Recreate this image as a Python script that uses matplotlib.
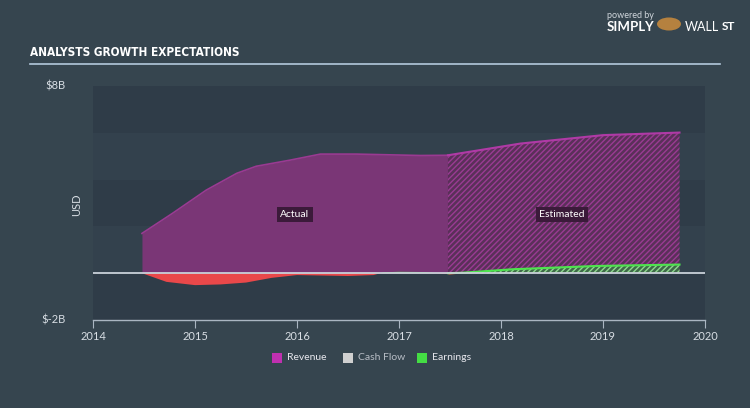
import matplotlib
matplotlib.use("Agg")
import matplotlib.pyplot as plt
import numpy as np

# ---- data (USD billions) ----
rev_act_x = [2014.48, 2014.78, 2015.11, 2015.41, 2015.60, 2015.93, 2016.23, 2016.58, 2017.21, 2017.48]
rev_act_y = [1.70, 2.56, 3.55, 4.27, 4.57, 4.83, 5.09, 5.09, 5.03, 5.04]
rev_est_x = [2017.48, 2018.19, 2019.00, 2019.75]
rev_est_y = [5.04, 5.54, 5.90, 6.01]

earn_act_x = [2014.48, 2014.72, 2015.00, 2015.25, 2015.50, 2015.75, 2016.00, 2016.25, 2016.50, 2016.75, 2016.85, 2017.00, 2017.25, 2017.48]
earn_act_y = [0.00, -0.37, -0.51, -0.48, -0.40, -0.20, -0.08, -0.10, -0.12, -0.08, 0.04, 0.06, 0.05, -0.05]
earn_est_x = [2017.48, 2017.62, 2018.12, 2018.94, 2019.75]
earn_est_y = [-0.05, 0.02, 0.17, 0.31, 0.37]

x_ticks = [2014, 2015, 2016, 2017, 2018, 2019, 2020]
y_tick_labels = {8: "$8B", -2: "$-2B"}

BG = "#36454f"
PLOT = "#33414d"
BAND = "#2f3c48"

fig = plt.figure(figsize=(7.5, 4.08), dpi=100, facecolor=BG)
ax = fig.add_axes([93/750, 1-320/408, (705-93)/750, (320-86)/408])
ax.set_facecolor(PLOT)
ax.set_xlim(2014, 2020)
ax.set_ylim(-2, 8)

# background bands
for lo in [6, 2, -2]:
    ax.axhspan(lo, lo + 2, color=BAND, zorder=0, lw=0)

# revenue actual
ax.fill_between(rev_act_x, 0, rev_act_y, color="#7a3676", lw=0, zorder=2)
ax.plot(rev_act_x, rev_act_y, color="#9a3a92", lw=1.2, zorder=3)
# revenue estimated (hatched)
ax.fill_between(rev_est_x, 0, rev_est_y, facecolor="#5a3059", edgecolor="#9a3b93",
                hatch="//////", lw=0, zorder=2)
ax.plot(rev_est_x, rev_est_y, color="#b03aa6", lw=1.5, zorder=3)

# earnings actual
ea_x = np.array(earn_act_x); ea_y = np.array(earn_act_y)
ax.fill_between(ea_x, 0, ea_y, where=ea_y <= 0, interpolate=True, color="#e9484a", lw=0, zorder=4)
ax.fill_between(ea_x, 0, ea_y, where=ea_y >= 0, interpolate=True, color="#4cd94c", lw=0, zorder=4)
# earnings estimated
ee_x = np.array(earn_est_x); ee_y = np.array(earn_est_y)
ax.fill_between(ee_x, 0, ee_y, where=ee_y <= 0, interpolate=True, color="#c0404a", lw=0, zorder=4)
ax.fill_between(ee_x, 0, ee_y, where=ee_y >= 0, interpolate=True, facecolor="#3e6a48",
                edgecolor="#8fd98f", hatch="//////", lw=0, zorder=4)
ax.plot(ee_x, np.clip(ee_y, 0, None), color="#4ee44e", lw=1.5, zorder=5)

# zero line
ax.axhline(0, color="#c9d1d9", lw=1.3, zorder=6)

# axes styling
for s in ["top", "right", "left"]:
    ax.spines[s].set_visible(False)
ax.spines["bottom"].set_color("#aab6c2")
ax.spines["bottom"].set_linewidth(1)
ax.set_xticks(x_ticks)
ax.set_xticklabels([str(t) for t in x_ticks], fontsize=8, color="#d8dee4", family="Lato")
ax.tick_params(axis="x", length=6, color="#aab6c2", pad=2)
ax.set_yticks([])
for v, lab in y_tick_labels.items():
    ax.text(-0.045, v, lab, transform=ax.get_yaxis_transform(), ha="right", va="center",
            fontsize=8, color="#d8dee4", family="Lato")
fig.text(77/750, 1-205/408, "USD", rotation=90, ha="center", va="center",
         fontsize=8, color="#d8dee4", family="Lato")

# annotations
box = dict(boxstyle="square,pad=0.3", fc="#3b1a3a", ec="none")
ax.text(2015.98, 2.5, "Actual", ha="center", va="center", fontsize=7.5, color="white",
        family="Lato", bbox=box, zorder=7)
ax.text(2018.6, 2.5, "Estimated", ha="center", va="center", fontsize=7.5, color="white",
        family="Lato", bbox=box, zorder=7)

# title & rule
fig.text(30/750, 1-53/408, "ANALYSTS GROWTH EXPECTATIONS", ha="left", va="center",
         fontsize=8.5, color="white", weight="bold", family="DejaVu Sans", stretch="condensed")
fig.add_artist(plt.Line2D([30/750, 720/750], [1-63.5/408, 1-63.5/408], color="#b4c8dc", lw=1.2))

# logo text
fig.text(607/750, 1-15/408, "powered by", fontsize=6.5, color="#d0d6dc", family="Lato", va="center")
fig.text(607/750, 1-27/408, "SIMPLY", fontsize=9.5, color="white", weight="bold", family="Lato", va="center")
fig.text(685/750, 1-27/408, "WALL", fontsize=9, color="white", family="Lato", va="center")
fig.text(722/750, 1-27/408, "ST", fontsize=8.5, color="white", weight="bold", family="Lato", va="center")
fig.patches.append(matplotlib.patches.Circle((669/750, 1-24/408), 0.016, transform=fig.transFigure,
                                             fc="#b5813f", ec="none"))

# legend
items = [("Revenue", "#c030b0", "#e8e8ee"), ("Cash Flow", "#d0d0d0", "#b8bec6"), ("Earnings", "#44dd44", "#e8e8ee")]
xs = [272, 343, 417]
for (lab, c, tc), x0 in zip(items, xs):
    fig.patches.append(matplotlib.patches.Rectangle((x0/750, 1-363/408), 10/750, 10/408,
                                                    transform=fig.transFigure, fc=c, ec="none"))
    fig.text((x0 + 15)/750, 1-358/408, lab, fontsize=7.5, color=tc, family="Lato", va="center")

fig.savefig("out.png", dpi=100, facecolor=BG)
